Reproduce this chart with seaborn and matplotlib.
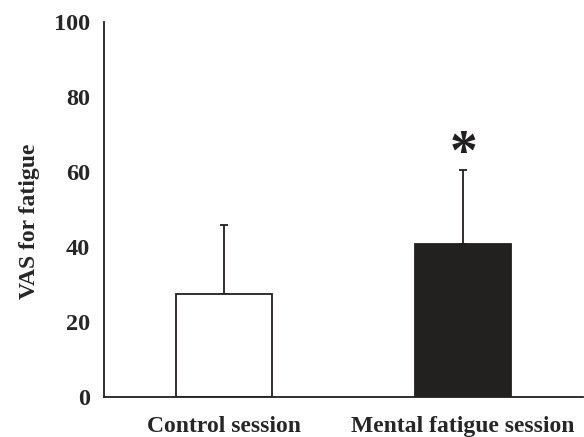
import numpy as np
import pandas as pd
import matplotlib
matplotlib.use("Agg")
import matplotlib.pyplot as plt
import seaborn as sns

# Dati
sessions = ["Control session", "Mental fatigue session"]
vas_mean = [27.4, 40.7]
vas_sd = [18.5, 19.7]
bar_colors = ["white", "#231f20"]

df = pd.DataFrame({"session": sessions, "vas": vas_mean})

sns.set_style("white")
plt.rcParams["font.family"] = ["Liberation Serif", "DejaVu Serif"]
plt.rcParams["font.weight"] = "bold"

ink = "#231f20"
fig = plt.figure(figsize=(5.84, 4.37), dpi=100)
ax = fig.add_axes([0.178, 0.0915, 0.82, 0.8585])

sns.barplot(data=df, x="session", y="vas", hue="session", palette=bar_colors,
            width=0.4, edgecolor=ink, linewidth=1.3, legend=False, ax=ax, zorder=2)

# barre di errore solo verso l'alto
ax.errorbar(np.arange(len(sessions)), vas_mean, yerr=[[0, 0], vas_sd],
            fmt="none", ecolor=ink, elinewidth=1.3, capsize=3, capthick=1.3, zorder=1)

ax.text(1, 64.5, "*", ha="center", va="center", fontsize=40, fontweight="bold", color=ink)

ax.set_xlim(-0.5, 1.5)
ax.set_ylim(0, 100)
ax.set_yticks(range(0, 101, 20))
ax.set_xticks([-0.5, 0.5, 1.5], minor=True)
ax.tick_params(axis="x", which="major", length=0, pad=14, labelsize=17)
ax.tick_params(axis="x", which="minor", length=5, width=1.3, color=ink, direction="out")
ax.tick_params(axis="y", length=5, width=1.3, color=ink, direction="out", labelsize=17.5, pad=5)
for lab in ax.get_xticklabels() + ax.get_yticklabels():
    lab.set_fontweight("bold")

for side in ["top", "right"]:
    ax.spines[side].set_visible(False)
for side in ["left", "bottom"]:
    ax.spines[side].set_color(ink)
    ax.spines[side].set_linewidth(1.3)

ax.set_xlabel("")
ax.set_ylabel("VAS for fatigue", fontsize=17, fontweight="bold", labelpad=10)
ax.yaxis.label.set_y(0.468)

fig.savefig("out.png", dpi=100)
